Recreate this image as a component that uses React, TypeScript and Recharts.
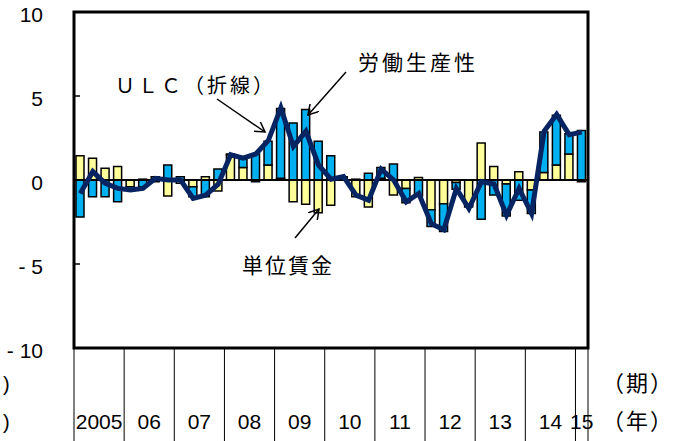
import React from 'react';
import { ComposedChart, Bar, Line, XAxis, YAxis, ReferenceLine, ReferenceArea } from 'recharts';

// years on the axis and how many quarters each one has
const yearLabels = ['2005', '06', '07', '08', '09', '10', '11', '12', '13', '14', '15'];
const quartersPerYear = [4, 4, 4, 4, 4, 4, 4, 4, 4, 4, 1];

// 単位賃金 (yellow bars)
const wage = [
  1.45, 1.3, 0.7, 0.8,
  -0.4, 0.05, -0.1, -0.95,
  -0.2, -0.4, 0.2, -0.65,
  1.5, 0.75, -0.1, 0.9,
  0.1, -1.3, -1.45, -1.95,
  -1.5, 0.0, -1.0, -1.6,
  0.1, -0.9, -0.5, 0.15,
  -1.77, -1.42, -0.15, -1.5,
  2.2, 0.8, -0.24, 0.49,
  -0.6, 0.45, 0.9, 1.55,
  -0.1,
];

// 労働生産性 (blue bars)
const productivity = [
  -2.2, -1.0, -1.0, -1.3,
  -0.15, -0.4, 0.2, 0.9,
  0.2, -0.6, -1.0, 0.65,
  0.05, 0.5, 1.55, 1.4,
  4.15, 3.4, 4.2, 2.3,
  1.45, 0.2, 0.05, 0.4,
  0.65, 0.95, -0.85, -0.95,
  -1.0, -1.64, -0.4, -0.1,
  -2.33, -0.9, -1.9, -1.2,
  -1.4, 2.4, 2.95, 1.2,
  2.95,
];

// ULC (line)
const ulc = [
  -0.8, 0.5, -0.2, -0.5,
  -0.6, -0.5, 0.1, 0.0,
  0.0, -1.1, -0.9, -0.25,
  1.5, 1.3, 1.55, 2.35,
  4.3, 2.0, 2.9, 0.9,
  0.05, 0.2, -0.9, -1.2,
  0.65, 0.0, -1.3, -0.8,
  -2.6, -2.96, -0.5, -1.7,
  -0.1, -0.24, -2.1, -0.5,
  -2.0, 2.9, 3.9, 2.7,
  2.85,
];

const yTicks = [-10, -5, 0, 5, 10];

const categories: { key: string; year: number; q: number }[] = [];
yearLabels.forEach((_, yi) => {
  for (let q = 0; q < quartersPerYear[yi]; q++) categories.push({ key: `${yi}-${q}`, year: yi, q });
});

const data = categories.map((c, i) => ({
  key: c.key,
  wage: wage[i],
  productivity: productivity[i],
  ulc: ulc[i],
}));

const FONT = '"Liberation Sans", Arial, sans-serif';
const CJK = '"Noto Sans CJK JP", sans-serif';

const YearTick = (props: any) => {
  const { x, y, payload } = props;
  const i = categories.findIndex((c) => c.key === payload.value);
  if (i < 0) return null;
  const c = categories[i];
  const half = payload.offset ?? 6.25;
  const els: React.ReactNode[] = [];
  if (c.q === 0) {
    els.push(<line key="l" x1={x - half} x2={x - half} y1={y} y2={y + 93} stroke="#000" strokeWidth={1} />);
  }
  if (i === categories.length - 1) {
    els.push(<line key="r" x1={x + half} x2={x + half} y1={y} y2={y + 93} stroke="#000" strokeWidth={1} />);
  }
  const n = quartersPerYear[c.year];
  const labelQ = n > 1 ? 1 : 0;
  if (c.q === labelQ) {
    const cx = n > 1 ? x + half : x;
    els.push(
      <text key="t" x={cx} y={y + 81} textAnchor="middle" fontSize={21} fontFamily={FONT} fill="#000">
        {yearLabels[c.year]}
      </text>
    );
  }
  return <g>{els}</g>;
};

const ValueTick = (props: any) => {
  const { x, y, payload } = props;
  const v = payload.value as number;
  const label = v < 0 ? `- ${Math.abs(v)}` : `${v}`;
  return (
    <g>
      <text x={x - 31} y={y + 10} textAnchor="end" fontSize={21} fontFamily={FONT} fill="#000">
        {label}
      </text>
      {Math.abs(v) === 5 && <line x1={x} x2={x + 6} y1={y} y2={y} stroke="#000" strokeWidth={1.5} />}
    </g>
  );
};

export default function App() {
  return (
    <div style={{ position: 'absolute', left: 0, top: 0, width: 676, height: 441, background: '#fff' }}>
      <ComposedChart
        width={676}
        height={441}
        data={data}
        stackOffset="sign"
        barSize={8}
        margin={{ top: 12, right: 88, bottom: 0, left: 0 }}
      >
        <XAxis
          dataKey="key"
          interval={0}
          height={93}
          axisLine={false}
          tickLine={false}
          tickSize={0}
          tickMargin={0}
          tick={<YearTick />}
        />
        <YAxis
          width={74}
          domain={[-10, 10]}
          ticks={yTicks}
          axisLine={false}
          tickLine={false}
          tickSize={0}
          tickMargin={0}
          tick={<ValueTick />}
        />
        <Bar dataKey="wage" stackId="s" fill="#FFFF99" stroke="#000" strokeWidth={1.5} isAnimationActive={false} />
        <Bar dataKey="productivity" stackId="s" fill="#00B0F0" stroke="#000" strokeWidth={1.5} isAnimationActive={false} />
        <ReferenceLine y={0} stroke="#000" strokeWidth={2} />
        <Line
          dataKey="ulc"
          type="linear"
          stroke="#062462"
          strokeWidth={5}
          dot={false}
          isAnimationActive={false}
        />
        <ReferenceArea y1={-10} y2={10} fill="none" fillOpacity={0} stroke="#000" strokeWidth={3} />
      </ComposedChart>
      <svg width={676} height={441} style={{ position: 'absolute', left: 0, top: 0, pointerEvents: 'none' }}>
        <defs>
          <marker id="arrow" markerWidth="12" markerHeight="12" refX="10" refY="6" orient="auto" markerUnits="userSpaceOnUse">
            <path d="M0,0 L10,6 L0,12" fill="none" stroke="#000" strokeWidth={1.5} />
          </marker>
        </defs>
        <line x1={217} y1={99} x2={265} y2={132} stroke="#000" strokeWidth={1.5} markerEnd="url(#arrow)" />
        <line x1={346} y1={72} x2={308} y2={115} stroke="#000" strokeWidth={1.5} markerEnd="url(#arrow)" />
        <line x1={295} y1={238} x2={319} y2={209} stroke="#000" strokeWidth={1.5} markerEnd="url(#arrow)" />
        <text x={115} y={93} fontSize={20} fontFamily={CJK} letterSpacing={3} fill="#000">ＵＬＣ（折線）</text>
        <text x={358} y={70} fontSize={21} fontFamily={CJK} letterSpacing={3} fill="#000">労働生産性</text>
        <text x={242} y={273} fontSize={21} fontFamily={CJK} letterSpacing={2} fill="#000">単位賃金</text>
        <text x={602} y={391} fontSize={22} fontFamily={CJK} letterSpacing={2} fill="#000">（期）</text>
        <text x={602} y={429} fontSize={22} fontFamily={CJK} letterSpacing={2} fill="#000">（年）</text>
        <text x={3} y={391} fontSize={20} fontFamily={FONT} fill="#000">)</text>
        <text x={3} y={429} fontSize={20} fontFamily={FONT} fill="#000">)</text>
      </svg>
    </div>
  );
}
